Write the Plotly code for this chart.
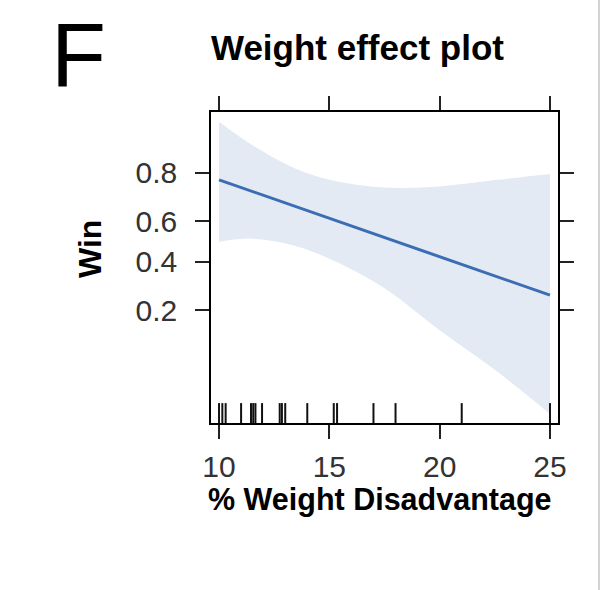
import numpy as np
import plotly.graph_objects as go

# ---- data ----
x_grid = [10, 11.5, 13.5, 15.5, 17.5, 20, 22.5, 25]
fit_p = [0.776, 0.733, 0.668, 0.596, 0.520, 0.424, 0.333, 0.253]
upper_p = [0.918, 0.875, 0.812, 0.768, 0.748, 0.752, 0.775, 0.796]
lower_p = [0.499, 0.514, 0.476, 0.390, 0.280, 0.143, 0.070, 0.030]
rug_x = [10.0, 10.15, 10.3, 11.0, 11.45, 11.55, 11.65, 11.95, 12.75, 12.85,
         13.0, 14.0, 15.2, 15.35, 17.0, 18.0, 21.0, 25.0]
x_ticks = [10, 15, 20, 25]
y_tick_p = [0.2, 0.4, 0.6, 0.8]
y_tick_labels = ["0.2", "0.4", "0.6", "0.8"]


def logit(p):
    p = np.asarray(p, dtype=float)
    return np.log(p / (1 - p))


FONT = "Liberation Sans, Arial, Helvetica, sans-serif"
BAND = "#e3eaf4"
LINE = "#3a6db4"

W, H = 600, 590
ML, MR, MT, MB = 211, 42, 112, 167
PW, PH = W - ML - MR, H - MT - MB

fig = go.Figure()
fig.add_trace(go.Scatter(
    x=x_grid, y=logit(lower_p), mode="lines",
    line=dict(width=0, shape="spline", color=BAND),
    hoverinfo="skip", showlegend=False))
fig.add_trace(go.Scatter(
    x=x_grid, y=logit(upper_p), mode="lines", fill="tonexty", fillcolor=BAND,
    line=dict(width=0, shape="spline", color=BAND),
    hoverinfo="skip", showlegend=False))
fig.add_trace(go.Scatter(
    x=x_grid, y=logit(fit_p), mode="lines",
    line=dict(color=LINE, width=3), showlegend=False))

# rug
for rx in rug_x:
    fig.add_shape(type="line", xref="x", yref="y domain", x0=rx, x1=rx,
                  y0=0, y1=0.064, line=dict(color="#111", width=2))


def px(x, y):
    return (x - ML) / PW, (H - MB - y) / PH


# right edge grey line
ex, _ = px(599, 0)
fig.add_shape(type="line", xref="paper", yref="paper", x0=ex, x1=ex,
              y0=-1, y1=2, line=dict(color="#c4c4c4", width=1.5))

axis_common = dict(showline=True, linecolor="black", linewidth=1.5,
                   mirror="ticks", ticks="outside", ticklen=14, tickwidth=1.5,
                   tickcolor="#222", showgrid=False, zeroline=False,
                   tickfont=dict(family=FONT, size=30, color="#333"))

fig.update_xaxes(range=[9.636, 25.364], tickvals=x_ticks,
                 ticktext=[str(v) for v in x_ticks], ticklabelstandoff=2,
                 **axis_common)
fig.update_yaxes(range=[-3.66, 2.61], tickvals=list(logit(y_tick_p)),
                 ticktext=y_tick_labels, ticklabelstandoff=12, **axis_common)

anns = []
fx, fy = px(78, 55)
anns.append(dict(text="F", x=fx, y=fy, xref="paper", yref="paper",
                 xanchor="center", yanchor="middle", showarrow=False,
                 font=dict(family=FONT, size=90, color="black")))
tx, ty = px(357, 47)
anns.append(dict(text="<b>Weight effect plot</b>", x=tx, y=ty, xref="paper",
                 yref="paper", xanchor="center", yanchor="middle",
                 showarrow=False, font=dict(family=FONT, size=35, color="black")))
xx, xy = px(379, 499)
anns.append(dict(text="<b>% Weight Disadvantage</b>", x=xx, y=xy, xref="paper",
                 yref="paper", xanchor="center", yanchor="middle",
                 showarrow=False, font=dict(family=FONT, size=30.5, color="black")))
yx, yy = px(90, 249)
anns.append(dict(text="<b>Win</b>", x=yx, y=yy, xref="paper", yref="paper",
                 xanchor="center", yanchor="middle", textangle=-90,
                 showarrow=False, font=dict(family=FONT, size=32, color="black")))

fig.update_layout(width=W, height=H, margin=dict(l=ML, r=MR, t=MT, b=MB),
                  plot_bgcolor="white", paper_bgcolor="white",
                  annotations=anns, showlegend=False)

fig.write_html("out.html")
